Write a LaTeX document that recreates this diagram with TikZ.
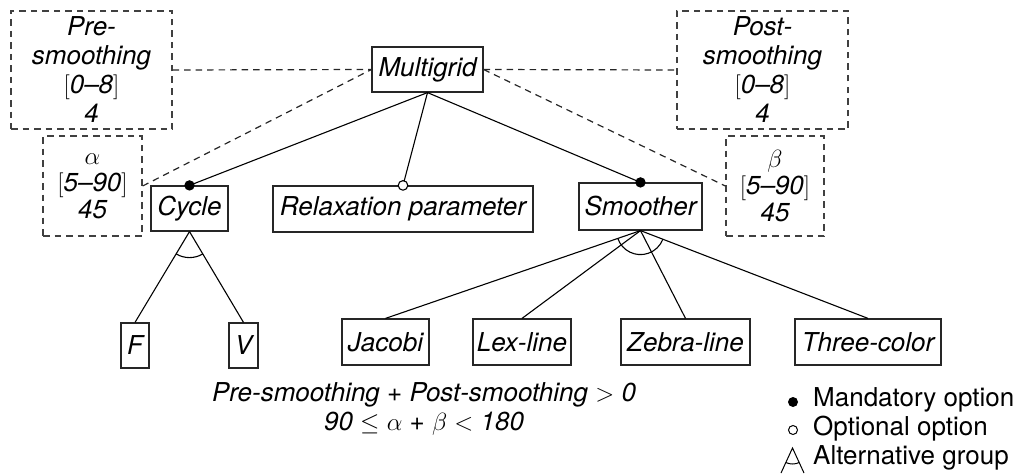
\documentclass[tikz,border=0pt]{standalone}
\usepackage[no-math]{fontspec}
\setmainfont{TeX Gyre Heros}
\usetikzlibrary{calc}
\begin{document}
\begin{tikzpicture}[x=1pt,y=1pt,
  txt/.style={font=\fontsize{26}{29}\selectfont\itshape, align=center, inner sep=0pt},
  feat/.style={txt, draw=black!85, line width=1.2pt},
  attr/.style={txt, draw=black!75, line width=1.3pt, dash pattern=on 6.5pt off 5pt},
  link/.style={line width=1.1pt, draw=black},
  dlink/.style={line width=1.2pt, draw=black!85, dash pattern=on 6.5pt off 5pt},
  legtxt/.style={font=\fontsize{26}{29}\selectfont, inner sep=0pt, anchor=base west}]
\useasboundingbox (0,0) rectangle (1016,475);

% feature boxes
\node[feat, minimum width=111pt, minimum height=45pt] (mg)  at (427.5,405.5) {Multigrid};
\node[feat, minimum width=77pt,  minimum height=45pt] (cyc) at (189.5,266.5) {Cycle};
\node[feat, minimum width=260pt, minimum height=46pt] (rel) at (403,266) {Relaxation parameter};
\node[feat, minimum width=123pt, minimum height=47pt] (smo) at (640.5,268.5) {Smoother};
\node[feat, minimum width=28pt,  minimum height=45pt] (F)   at (135,129.5) {F};
\node[feat, minimum width=29pt,  minimum height=45pt] (V)   at (243.5,129.5) {V};
\node[feat, minimum width=87pt,  minimum height=46pt] (jac) at (385.5,133) {Jacobi};
\node[feat, minimum width=98pt,  minimum height=46pt] (lex) at (522,133) {Lex-line};
\node[feat, minimum width=129pt, minimum height=46pt] (zeb) at (685.5,133) {Zebra-line};
\node[feat, minimum width=146pt, minimum height=46pt] (thr) at (868,133) {Three-color};

% attribute boxes
\node[attr, minimum width=161pt, minimum height=118pt] (pre) at (91.5,405) {Pre-\\smoothing\\$[$0--8$]$\\4};
\node[attr, minimum width=171pt, minimum height=118pt] (post) at (762.5,405) {Post-\\smoothing\\$[$0--8$]$\\4};
\node[attr, minimum width=99pt, minimum height=100pt, font=\fontsize{26}{27}\selectfont\itshape] (al) at (92.5,289) {$\alpha$\\$[$5--90$]$\\45};
\node[attr, minimum width=98pt, minimum height=100pt, font=\fontsize{26}{27}\selectfont\itshape] (be) at (775,289) {$\beta$\\$[$5--90$]$\\45};

% attribute links
\draw[dlink] (pre.east) -- (mg.west);
\draw[dlink] (mg.east) -- (post.west);
\draw[dlink] (al.east) -- (mg.west);
\draw[dlink] (mg.east) -- (be.west);

% feature links
\draw[link] (mg.south) -- (cyc.north);
\draw[link] (mg.south) -- (rel.north);
\draw[link] (mg.south) -- (smo.north);
\foreach \c in {F,V} \draw[link] (cyc.south) -- (\c.north);
\foreach \c in {jac,lex,zeb,thr} \draw[link] (smo.south) -- (\c.north);

% alternative group arcs
\draw[link] let \p1=($(F.north)-(cyc.south)$), \p2=($(V.north)-(cyc.south)$),
  \n1={atan2(\y1,\x1)}, \n2={atan2(\y2,\x2)} in
  ($(cyc.south)+(\n1:26pt)$) arc[start angle=\n1, end angle=\n2, radius=26pt];
\draw[link] let \p1=($(jac.north)-(smo.south)$), \p2=($(thr.north)-(smo.south)$),
  \n1={atan2(\y1,\x1)}, \n2={atan2(\y2,\x2)} in
  ($(smo.south)+(\n1:24pt)$) arc[start angle=\n1, end angle=\n2, radius=24pt];

% mandatory / optional markers
\fill (cyc.north) circle (5.2pt);
\fill (smo.north) circle (5.2pt);
\draw[line width=1.1pt, fill=white] (rel.north) circle (4.8pt);

% constraints
\node[txt, font=\fontsize{26}{28.5}\selectfont\itshape] (cons) at (424,66)
  {Pre-smoothing + Post-smoothing $>$ 0\\90 $\leq$ $\alpha$ + $\beta$ $<$ 180};

% legend
\node[legtxt] (l1) at (813,69) {Mandatory option};
\node[legtxt] (l2) at (813,40) {Optional option};
\node[legtxt] (l3) at (813,11) {Alternative group};
\fill (793,73) circle (5pt);
\draw[line width=1pt] (793,45) circle (4.5pt);
\draw[line width=1pt] (781,2) -- (792.5,27) -- (804,2);
\draw[line width=1pt] (792.5,27) ++(-114.7:16) arc[start angle=-114.7, end angle=-65.3, radius=16];
\end{tikzpicture}
\end{document}
